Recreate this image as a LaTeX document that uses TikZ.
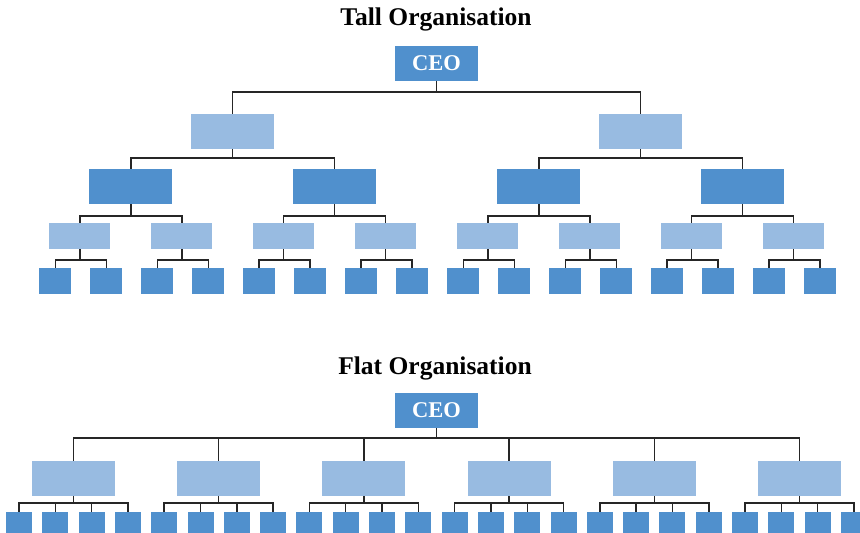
\documentclass[tikz,border=0pt]{standalone}
\usepackage{fontspec}
\setmainfont{Liberation Serif}
\usepackage{tikz}
\usetikzlibrary{positioning,calc}
\definecolor{boxdark}{HTML}{5090CD}
\definecolor{boxlight}{HTML}{98BBE1}
\tikzset{
  orgbox/.style={rectangle, inner sep=0pt, minimum width=83pt, minimum height=35pt},
  darkbox/.style={orgbox, fill=boxdark},
  lightbox/.style={orgbox, fill=boxlight},
  ceobox/.style={darkbox, text=white, font=\fontsize{22.5}{26}\selectfont\bfseries},
  midbox/.style={rectangle, inner sep=0pt, minimum width=61pt, minimum height=26pt, fill=boxlight},
  leafbox/.style={rectangle, inner sep=0pt, minimum width=32pt, minimum height=26pt, fill=boxdark},
  flatleaf/.style={leafbox, minimum width=26pt},
  heading/.style={anchor=base, font=\fontsize{25.5}{30}\selectfont\bfseries},
  conn/.style={draw=black!85, line width=1.5pt}
}

\begin{document}
\begin{tikzpicture}[x=1pt, y=-1pt]
  \useasboundingbox (0,0) rectangle (860,533);
  \clip (0,0) rectangle (860,533);

  % tall organisation
  \node[heading] (talltitle) at (436,25) {Tall Organisation};
  \node[ceobox] (tceo) at (436.5,63.5) {CEO};
  \node[lightbox] (t2-1) at (232.5,131.5) {};
  \node[lightbox] (t2-2) at (640.5,131.5) {};
  \draw[conn] (tceo.south) -- ++(0,11) -| (t2-1.north);
  \draw[conn] (tceo.south) -- ++(0,11) -| (t2-2.north);

  \foreach \k in {1,...,4} {
    \pgfmathtruncatemacro\up{(\k+1)/2}
    \pgfmathsetmacro\side{-101.75+203.5*mod(\k+1,2)}
    \node[darkbox] (t3-\k) at ($(t2-\up)+(\side,55)$) {};
    \draw[conn] (t2-\up.south) -- ++(0,9) -| (t3-\k.north);
  }
  \foreach \k in {1,...,8} {
    \pgfmathtruncatemacro\up{(\k+1)/2}
    \pgfmathsetmacro\side{-51+102*mod(\k+1,2)}
    \node[midbox] (t4-\k) at ($(t3-\up)+(\side,49.5)$) {};
    \draw[conn] (t3-\up.south) -- ++(0,12) -| (t4-\k.north);
  }
  \foreach \k in {1,...,16} {
    \pgfmathtruncatemacro\up{(\k+1)/2}
    \pgfmathsetmacro\side{-24.5+51*mod(\k+1,2)}
    \node[leafbox] (t5-\k) at ($(t4-\up)+(\side,45)$) {};
    \draw[conn] (t4-\up.south) -- ++(0,11) -| (t5-\k.north);
  }

  % flat organisation
  \node[heading] (flattitle) at (435,374) {Flat Organisation};
  \node[ceobox] (fceo) at (436.5,410.5) {CEO};
  \foreach \k in {1,...,6} {
    \pgfmathsetmacro\xx{73.5+145.2*(\k-1)}
    \node[lightbox] (f2-\k) at (\xx,478.5) {};
    \draw[conn] (fceo.south) -- ++(0,10) -| (f2-\k.north);
  }
  \foreach \k in {1,...,24} {
    \pgfmathtruncatemacro\up{(\k+3)/4}
    \pgfmathsetmacro\side{-54.5+36.33*mod(\k-1,4)}
    \node[flatleaf] (f3-\k) at ($(f2-\up)+(\side,46.5)$) {};
    \draw[conn] (f2-\up.south) -- ++(0,7) -| (f3-\k.north);
  }
\end{tikzpicture}
\end{document}
